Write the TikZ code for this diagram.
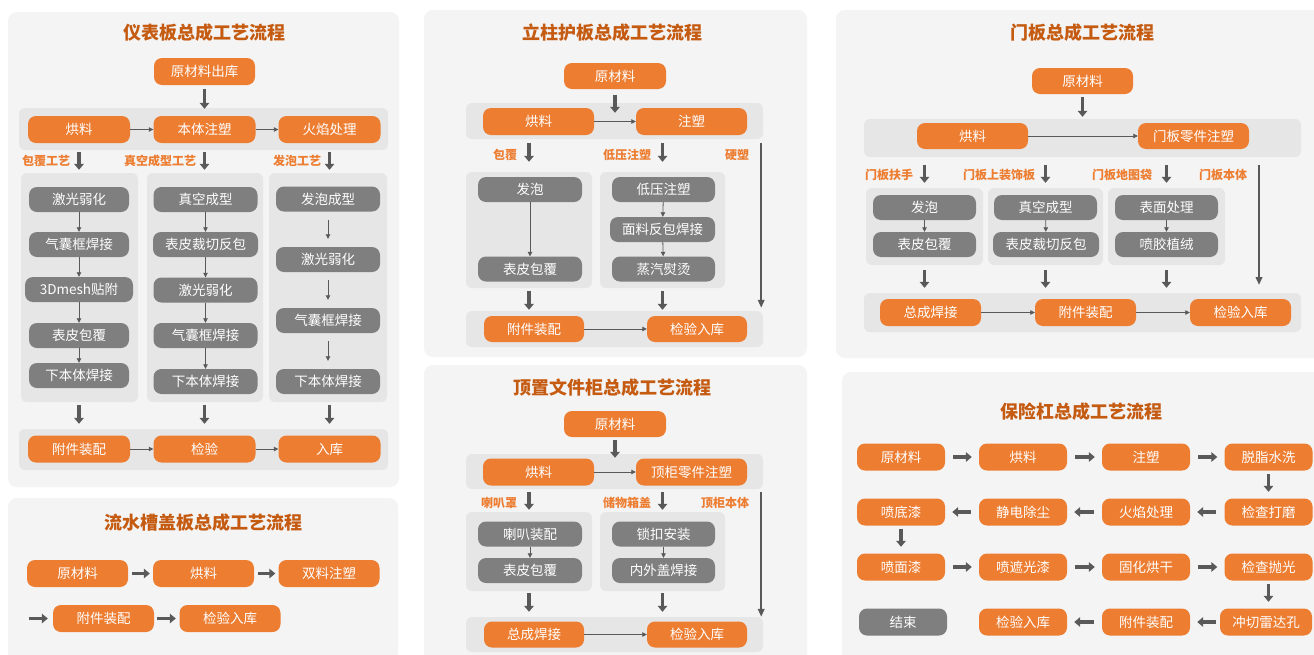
\documentclass[tikz,border=0pt]{standalone}
\usepackage{fontspec}
\setmainfont{Noto Sans CJK SC}
\usetikzlibrary{arrows.meta}
\definecolor{myor}{HTML}{ED7D31}
\definecolor{ttlor}{HTML}{C55A11}
\definecolor{pbg}{HTML}{F4F4F4}
\definecolor{bbg}{HTML}{E6E6E6}
\definecolor{gnd}{HTML}{7F7F7F}
\definecolor{arr}{HTML}{595959}
\tikzset{
  panel/.style={fill=pbg, rounded corners=9pt, inner sep=0pt},
  band/.style={fill=bbg, rounded corners=6pt, inner sep=0pt},
  onode/.style={fill=myor, text=white, rounded corners=8pt, minimum width=#1, minimum height=27pt, inner sep=0pt, font=\fontsize{13.5}{14}\selectfont},
  onode/.default=101pt,
  gnode/.style={fill=gnd, text=white, rounded corners=8pt, minimum width=#1, minimum height=25pt, inner sep=0pt, font=\fontsize{13.5}{14}\selectfont},
  gnode/.default=100pt,
  ttl/.style={text=ttlor, font=\bfseries\fontsize{18}{20}\selectfont, inner sep=0pt},
  lbl/.style={text=myor, font=\bfseries\fontsize{12}{13}\selectfont, inner sep=0pt},
  tarr/.style={draw=arr, line width=3.6pt, -{Triangle[width=9.5pt,length=6pt]}},
  narr/.style={draw=arr, line width=0.8pt, -{Triangle[width=4.5pt,length=4.5pt]}},
  larr/.style={draw=arr, line width=2pt, -{Triangle[width=6.5pt,length=8pt]}},
}
\begin{document}
\begin{tikzpicture}[x=1pt,y=-1pt]
\useasboundingbox (0,0) rectangle (1314,654);
\fill[white] (0,0) rectangle (1314,654);

% ================= Panel 1 =================
\node[panel, minimum width=391pt, minimum height=475pt] (P1) at (203.5,249.5) {};
\node[ttl] (P1t) at (204,33) {仪表板总成工艺流程};
\node[onode] (a0) at (204.5,71.5) {原材料出库};
\node[band, minimum width=369pt, minimum height=42pt] (aB1) at (203.5,129) {};
\node[onode=102pt] (a1) at (79,129.5) {烘料};
\node[onode=102pt] (a2) at (204.5,129.5) {本体注塑};
\node[onode=102pt] (a3) at (329.5,129.5) {火焰处理};
\draw[tarr, shorten <=4pt, shorten >=-1pt] (a0) -- (a0 |- aB1.north);
\draw[narr] (a1) -- (a2);
\draw[narr] (a2) -- (a3);
\node[lbl] (aL1) at (46,161) {包覆工艺};
\node[lbl] (aL2) at (160,161) {真空成型工艺};
\node[lbl] (aL3) at (297,161) {发泡工艺};
\node[band, minimum width=117pt, minimum height=229pt] (aS1) at (79.5,287.5) {};
\node[band, minimum width=116pt, minimum height=229pt] (aS2) at (205,287.5) {};
\node[band, minimum width=118pt, minimum height=229pt] (aS3) at (328,287.5) {};
\draw[tarr, shorten <=2pt, shorten >=3pt] (a1 |- aB1.south) -- (a1 |- aS1.north);
\draw[tarr, shorten <=2pt, shorten >=3pt] (a2 |- aB1.south) -- (a2 |- aS2.north);
\draw[tarr, shorten <=2pt, shorten >=3pt] (a3 |- aB1.south) -- (a3 |- aS3.north);
\node[gnode] (g11) at (79,199.5) {激光弱化};
\node[gnode] (g12) at (79,244.5) {气囊框焊接};
\node[gnode=108pt] (g13) at (79,289.5) {3Dmesh贴附};
\node[gnode] (g14) at (79,335.5) {表皮包覆};
\node[gnode] (g15) at (79,375.5) {下本体焊接};
\draw[narr] (g11) -- (g12);
\draw[narr] (g12) -- (g13);
\draw[narr] (g13) -- (g14);
\draw[narr] (g14) -- (g15);
\node[gnode=104pt] (g21) at (205.5,199.5) {真空成型};
\node[gnode=105pt] (g22) at (205.5,244.5) {表皮裁切反包};
\node[gnode=104pt] (g23) at (205.5,290) {激光弱化};
\node[gnode=104pt] (g24) at (205.5,335.5) {气囊框焊接};
\node[gnode=104pt] (g25) at (205.5,381.5) {下本体焊接};
\draw[narr] (g21) -- (g22);
\draw[narr] (g22) -- (g23);
\draw[narr] (g23) -- (g24);
\draw[narr] (g24) -- (g25);
\node[gnode=104pt] (g31) at (328,199) {发泡成型};
\node[gnode=104pt] (g32) at (328,259.5) {激光弱化};
\node[gnode=104pt] (g33) at (328,320.5) {气囊框焊接};
\node[gnode=104pt] (g34) at (328,381.5) {下本体焊接};
\draw[narr, shorten <=8pt, shorten >=8pt] (g31) -- (g32);
\draw[narr, shorten <=8pt, shorten >=8pt] (g32) -- (g33);
\draw[narr, shorten <=8pt, shorten >=8pt] (g33) -- (g34);
\node[band, minimum width=369pt, minimum height=41pt] (aB2) at (203.5,449.5) {};
\draw[tarr, shorten <=3pt, shorten >=5pt] (a1 |- aS1.south) -- (a1 |- aB2.north);
\draw[tarr, shorten <=3pt, shorten >=5pt] (a2 |- aS2.south) -- (a2 |- aB2.north);
\draw[tarr, shorten <=3pt, shorten >=5pt] (a3 |- aS3.south) -- (a3 |- aB2.north);
\node[onode=102pt] (a4) at (79,449) {附件装配};
\node[onode=102pt] (a5) at (204.5,449) {检验};
\node[onode=102pt] (a6) at (329.5,449) {入库};
\draw[narr] (a4) -- (a5);
\draw[narr] (a5) -- (a6);

% ================= Panel 2 =================
\node[panel, minimum width=390pt, minimum height=180pt] (P2) at (203,588) {};
\node[ttl] (P2t) at (203,523) {流水槽盖板总成工艺流程};
\node[onode] (b1) at (77.5,573.5) {原材料};
\node[onode] (b2) at (203.5,573.5) {烘料};
\node[onode] (b3) at (329,573.5) {双料注塑};
\draw[tarr, shorten <=4pt, shorten >=3pt] (b1) -- (b2);
\draw[tarr, shorten <=4pt, shorten >=3pt] (b2) -- (b3);
\coordinate (b0) at (29,618.5);
\node[onode] (b4) at (103.5,618.5) {附件装配};
\node[onode] (b5) at (230,618.5) {检验入库};
\draw[tarr, shorten >=5pt] (b0) -- (b4);
\draw[tarr, shorten <=3pt, shorten >=3.5pt] (b4) -- (b5);

% ================= Panel 3 =================
\node[panel, minimum width=383pt, minimum height=347pt] (P3) at (615.5,183.5) {};
\node[ttl] (P3t) at (612,33) {立柱护板总成工艺流程};
\node[onode=102pt, minimum height=26pt] (c0) at (615,76) {原材料};
\node[band, minimum width=297pt, minimum height=36pt] (cB1) at (614.5,121) {};
\node[onode=111pt] (c1) at (538.5,121.5) {烘料};
\node[onode=111pt] (c2) at (691.5,121.5) {注塑};
\draw[tarr, shorten <=6pt, shorten >=-10pt] (c0) -- (c0 |- cB1.north);
\draw[narr] (c1) -- (c2);
\node[lbl] (cL1) at (505,155) {包覆};
\node[lbl] (cL2) at (627,155) {低压注塑};
\node[lbl] (cL3) at (737,155) {硬塑};
\node[band, minimum width=126pt, minimum height=116pt] (cS1) at (529,230) {};
\node[band, minimum width=125pt, minimum height=116pt] (cS2) at (662.5,230) {};
\draw[tarr, shorten <=4pt, shorten >=10pt] (cS1 |- cB1.south) -- (cS1.north);
\draw[tarr, shorten <=4pt, shorten >=10pt] (cS2 |- cB1.south) -- (cS2.north);
\node[gnode=104pt] (c11) at (530,189.5) {发泡};
\node[gnode=104pt] (c12) at (530,269) {表皮包覆};
\draw[narr] (c11) -- (c12);
\node[gnode=103pt] (c21) at (663.5,189.5) {低压注塑};
\node[gnode=105pt] (c22) at (662.5,229.5) {面料反包焊接};
\node[gnode=103pt] (c23) at (663.5,269) {蒸汽熨烫};
\draw[narr] (c21) -- (c22);
\draw[narr] (c22) -- (c23);
\node[band, minimum width=297pt, minimum height=36pt] (cB2) at (614.5,329) {};
\draw[tarr, shorten <=3pt, shorten >=1pt] (cS1.south) -- (cS1 |- cB2.north);
\draw[tarr, shorten <=3pt, shorten >=1pt] (cS2.south) -- (cS2 |- cB2.north);
\node[onode=100pt, minimum height=26pt] (c3) at (534,329) {附件装配};
\node[onode=100pt, minimum height=26pt] (c4) at (697,329) {检验入库};
\draw[narr] (c3) -- (c4);
\draw[larr, shorten <=4pt, shorten >=3pt] ([xshift=-2pt]cB1.south east) -- ([xshift=-2pt]cB2.north east);

% ================= Panel 4 =================
\node[panel, minimum width=383pt, minimum height=299pt] (P4) at (615.5,514.5) {};
\node[ttl] (P4t) at (612,388) {顶置文件柜总成工艺流程};
\node[onode=102pt, minimum height=26pt] (d0) at (615,424) {原材料};
\node[band, minimum width=297pt, minimum height=35pt] (dB1) at (614.5,471.5) {};
\node[onode=111pt] (d1) at (538.5,472) {烘料};
\node[onode=111pt] (d2) at (691.5,472) {顶柜零件注塑};
\draw[tarr, shorten <=3pt, shorten >=-4pt] (d0) -- (d0 |- dB1.north);
\draw[narr] (d1) -- (d2);
\node[lbl] (dL1) at (499,503) {喇叭罩};
\node[lbl] (dL2) at (627,503) {储物箱盖};
\node[lbl] (dL3) at (725,503) {顶柜本体};
\node[band, minimum width=126pt, minimum height=79pt] (dS1) at (529,551.5) {};
\node[band, minimum width=125pt, minimum height=79pt] (dS2) at (662.5,551.5) {};
\draw[tarr, shorten <=3pt, shorten >=2pt] (dS1 |- dB1.south) -- (dS1.north);
\draw[tarr, shorten <=3pt, shorten >=2pt] (dS2 |- dB1.south) -- (dS2.north);
\node[gnode=104pt] (d11) at (530,534) {喇叭装配};
\node[gnode=104pt] (d12) at (530,570.5) {表皮包覆};
\draw[narr] (d11) -- (d12);
\node[gnode=103pt] (d21) at (663.5,534) {锁扣安装};
\node[gnode=103pt] (d22) at (663.5,570.5) {内外盖焊接};
\draw[narr] (d21) -- (d22);
\node[band, minimum width=297pt, minimum height=35pt] (dB2) at (614.5,634.5) {};
\draw[tarr, shorten <=2pt, shorten >=5pt] (dS1.south) -- (dS1 |- dB2.north);
\draw[tarr, shorten <=2pt, shorten >=5pt] (dS2.south) -- (dS2 |- dB2.north);
\node[onode=100pt, minimum height=26pt] (d3) at (534,634.5) {总成焊接};
\node[onode=100pt, minimum height=26pt] (d4) at (697,634.5) {检验入库};
\draw[narr] (d3) -- (d4);
\draw[larr, shorten <=3pt] ([xshift=-2pt]dB1.south east) -- ([xshift=-2pt]dB2.north east);

% ================= Panel 5 =================
\node[panel, minimum width=488pt, minimum height=348pt] (P5) at (1080,184) {};
\node[ttl] (P5t) at (1082,33) {门板总成工艺流程};
\node[onode=101pt, minimum height=26pt] (e0) at (1082.5,81) {原材料};
\node[band, minimum width=437pt, minimum height=38pt] (eB1) at (1082.5,138) {};
\node[onode=111pt, minimum height=26pt] (e1) at (972.5,136) {烘料};
\node[onode=111pt, minimum height=26pt] (e2) at (1193.5,136) {门板零件注塑};
\draw[tarr, shorten <=3pt, shorten >=2pt] (e0) -- (e0 |- eB1.north);
\draw[narr] (e1) -- (e2);
\node[lbl] (eL1) at (889,175) {门板扶手};
\node[lbl] (eL2) at (999,175) {门板上装饰板};
\node[lbl] (eL3) at (1122,175) {门板地图袋};
\node[lbl] (eL4) at (1223,175) {门板本体};
\node[band, minimum width=117pt, minimum height=77pt] (eS1) at (924.5,226.5) {};
\node[band, minimum width=115pt, minimum height=77pt] (eS2) at (1045.5,226.5) {};
\node[band, minimum width=117pt, minimum height=77pt] (eS3) at (1166.5,226.5) {};
\draw[tarr, shorten <=8pt, shorten >=5pt] (eS1 |- eB1.south) -- (eS1.north);
\draw[tarr, shorten <=8pt, shorten >=5pt] (eS2 |- eB1.south) -- (eS2.north);
\draw[tarr, shorten <=8pt, shorten >=5pt] (eS3 |- eB1.south) -- (eS3.north);
\node[gnode=103pt] (e11) at (924.5,207.5) {发泡};
\node[gnode=103pt] (e12) at (924.5,244.5) {表皮包覆};
\draw[narr] (e11) -- (e12);
\node[gnode=103pt] (e21) at (1045.5,207.5) {真空成型};
\node[gnode=106pt] (e22) at (1046,244.5) {表皮裁切反包};
\draw[narr] (e21) -- (e22);
\node[gnode=103pt] (e31) at (1166.5,207.5) {表面处理};
\node[gnode=103pt] (e32) at (1166.5,244.5) {喷胶植绒};
\draw[narr] (e31) -- (e32);
\node[band, minimum width=437pt, minimum height=39pt] (eB2) at (1082.5,312.5) {};
\draw[tarr, shorten <=5pt, shorten >=5pt] (eS1.south) -- (eS1 |- eB2.north);
\draw[tarr, shorten <=5pt, shorten >=5pt] (eS2.south) -- (eS2 |- eB2.north);
\draw[tarr, shorten <=5pt, shorten >=5pt] (eS3.south) -- (eS3 |- eB2.north);
\node[onode] (e3) at (930.5,312.5) {总成焊接};
\node[onode] (e4) at (1085.5,312.5) {附件装配};
\node[onode] (e5) at (1240.5,312.5) {检验入库};
\draw[narr] (e3) -- (e4);
\draw[narr] (e4) -- (e5);
\coordinate (eLa) at (1259,165);
\coordinate (eLb) at (1259,285);
\draw[larr] (eLa) -- (eLb);

% ================= Panel 6 =================
\node[panel, minimum width=482pt, minimum height=292pt] (P6) at (1083,518) {};
\node[ttl] (P6t) at (1081,412) {保险杠总成工艺流程};
\node[onode=88pt] (f1) at (901,457) {原材料};
\node[onode=88pt] (f2) at (1023,457) {烘料};
\node[onode=88pt] (f3) at (1146,457) {注塑};
\node[onode=88pt] (f4) at (1268.5,457) {脱脂水洗};
\node[onode=88pt] (f5) at (1268.5,512) {检查打磨};
\node[onode=88pt] (f6) at (1146,512) {火焰处理};
\node[onode=88pt] (f7) at (1023,512) {静电除尘};
\node[onode=88pt] (f8) at (901,512) {喷底漆};
\node[onode=88pt] (f9) at (901,567) {喷面漆};
\node[onode=88pt] (f10) at (1023,567) {喷遮光漆};
\node[onode=88pt] (f11) at (1146,567) {固化烘干};
\node[onode=88pt] (f12) at (1268.5,567) {检查抛光};
\node[onode=92pt] (f13) at (1266,622) {冲切雷达孔};
\node[onode=88pt] (f14) at (1146,622) {附件装配};
\node[onode=88pt] (f15) at (1023,622) {检验入库};
\node[gnode=88pt, minimum height=27pt] (f16) at (903,622) {结束};
\draw[tarr, shorten <=8pt, shorten >=7pt] (f1) -- (f2);
\draw[tarr, shorten <=8pt, shorten >=7pt] (f2) -- (f3);
\draw[tarr, shorten <=8pt, shorten >=7pt] (f3) -- (f4);
\draw[tarr, shorten <=3pt, shorten >=6.5pt] (f4) -- (f5);
\draw[tarr, shorten <=8pt, shorten >=7pt] (f5) -- (f6);
\draw[tarr, shorten <=8pt, shorten >=7pt] (f6) -- (f7);
\draw[tarr, shorten <=8pt, shorten >=7pt] (f7) -- (f8);
\draw[tarr, shorten <=3pt, shorten >=6.5pt] (f8) -- (f9);
\draw[tarr, shorten <=8pt, shorten >=7pt] (f9) -- (f10);
\draw[tarr, shorten <=8pt, shorten >=7pt] (f10) -- (f11);
\draw[tarr, shorten <=8pt, shorten >=7pt] (f11) -- (f12);
\draw[tarr, shorten <=3pt, shorten >=6.5pt] (f12) -- (f12 |- f13.north);
\draw[tarr, shorten <=4pt, shorten >=7pt] (f13) -- (f14);
\draw[tarr, shorten <=8pt, shorten >=7pt] (f14) -- (f15);
\end{tikzpicture}
\end{document}
